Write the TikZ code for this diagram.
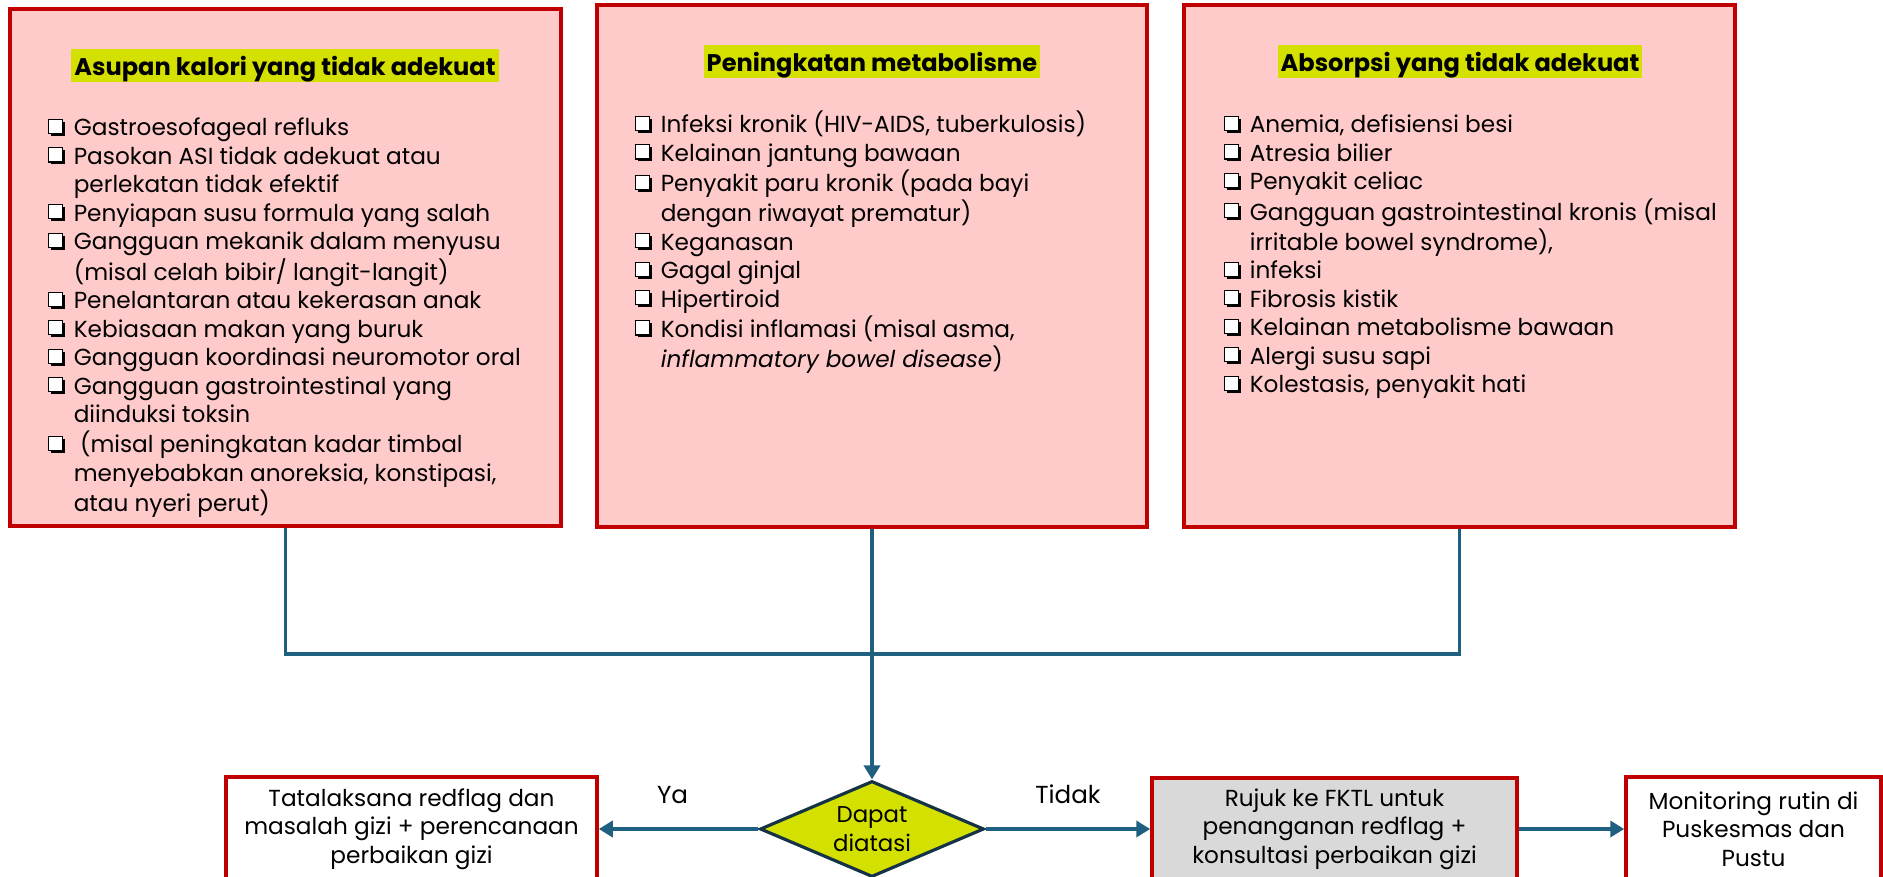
\documentclass[tikz,border=0pt]{standalone}
\usepackage{fontspec}
\setmainfont{Poppins}
\usetikzlibrary{arrows.meta,shapes.geometric}
\definecolor{garismerah}{RGB}{192,0,0}
\definecolor{isimerah}{RGB}{255,202,202}
\definecolor{kuninghijau}{RGB}{212,224,0}
\definecolor{alur}{RGB}{31,96,128}
\definecolor{tepibelah}{RGB}{22,50,70}
\definecolor{abu}{RGB}{217,217,217}

% kotak centang berbayang
\newcommand{\kotak}{\rlap{\hspace{0.3mm}\rule{1.4mm}{1.4mm}}%
  \raisebox{0.3mm}{\setlength{\fboxsep}{0pt}\setlength{\fboxrule}{0.3pt}%
  \fcolorbox{black}{white}{\rule{0pt}{1.3mm}\rule{1.3mm}{0pt}}}\hspace{0.3mm}}
\newcommand{\isifont}{\fontsize{6.6}{8.1}\selectfont}

\begin{document}
\begin{tikzpicture}[x=0.1mm,y=-0.1mm,>={Triangle[length=1.4mm,width=1.6mm]},
    sebab/.style={draw=garismerah,line width=1.1pt,fill=isimerah,inner sep=0pt},
    judul/.style={fill=kuninghijau,anchor=base,font=\bfseries\fontsize{6.85}{8.1}\selectfont,
      inner xsep=0.3mm,inner ysep=0pt,text height=2.7mm,text depth=0.6mm},
    daftar/.style={anchor=base west,inner sep=0pt,font=\isifont},
    langkah/.style={draw=garismerah,line width=1pt,align=center,inner sep=0pt,font=\isifont},
    keputusan/.style={diamond,draw=tepibelah,line width=0.9pt,fill=kuninghijau,aspect=2.33,
      inner sep=0pt,minimum width=22.4mm,minimum height=9.6mm,align=center,
      font=\fontsize{6.5}{8.2}\selectfont},
    label/.style={inner sep=0pt,font=\fontsize{7}{8.1}\selectfont},
    alir/.style={draw=alur,line width=1.1pt}]
    \useasboundingbox (0,0) rectangle (1883,877);

    % Kotak penyebab
    \node[sebab,minimum width=55.1mm,minimum height=51.7mm] (sebab1) at (285.5,267.5) {};
    \node[sebab,minimum width=55.0mm,minimum height=52.2mm] (sebab2) at (872,266) {};
    \node[sebab,minimum width=55.1mm,minimum height=52.2mm] (sebab3) at (1459.5,266) {};

    % Judul
    \node[judul] (judul1) at (285,76) {Asupan kalori yang tidak adekuat};
    \node[judul] (judul2) at (872,72) {Peningkatan metabolisme};
    \node[judul] (judul3) at (1460,72) {Absorpsi yang tidak adekuat};

    % Daftar
    \node[daftar] (daftar1) at (47,136) {\begin{tabular}[t]{@{}l@{\hspace{1.1mm}}l@{}}
      \kotak & Gastroesofageal refluks\\
      \kotak & Pasokan ASI tidak adekuat atau\\
             & perlekatan tidak efektif\\
      \kotak & Penyiapan susu formula yang salah\\
      \kotak & Gangguan mekanik dalam menyusu\\
             & (misal celah bibir/ langit-langit)\\
      \kotak & Penelantaran atau kekerasan anak\\
      \kotak & Kebiasaan makan yang buruk\\
      \kotak & Gangguan koordinasi neuromotor oral\\
      \kotak & Gangguan gastrointestinal yang\\
             & diinduksi toksin\\
      \kotak & \ (misal peningkatan kadar timbal\\
             & menyebabkan anoreksia, konstipasi,\\
             & atau nyeri perut)
    \end{tabular}};
    \node[daftar] (daftar2) at (634,133) {\begin{tabular}[t]{@{}l@{\hspace{1.1mm}}l@{}}
      \kotak & Infeksi kronik (HIV-AIDS, tuberkulosis)\\
      \kotak & Kelainan jantung bawaan\\
      \kotak & Penyakit paru kronik (pada bayi\\
             & dengan riwayat prematur)\\
      \kotak & Keganasan\\
      \kotak & Gagal ginjal\\
      \kotak & Hipertiroid\\
      \kotak & Kondisi inflamasi (misal asma,\\
             & \textit{inflammatory bowel disease})
    \end{tabular}};
    \node[daftar] (daftar3) at (1223,133) {\begin{tabular}[t]{@{}l@{\hspace{1.1mm}}l@{}}
      \kotak & Anemia, defisiensi besi\\
      \kotak & Atresia bilier\\
      \kotak & Penyakit celiac\\
      \kotak & Gangguan gastrointestinal kronis (misal\\
             & irritable bowel syndrome),\\
      \kotak & infeksi\\
      \kotak & Fibrosis kistik\\
      \kotak & Kelainan metabolisme bawaan\\
      \kotak & Alergi susu sapi\\
      \kotak & Kolestasis, penyakit hati
    \end{tabular}};

    % Alur bawah
    \node[keputusan] (dapat) at (872,829) {Dapat\\diatasi};
    \node[langkah,fill=white,minimum width=37.1mm,minimum height=10.4mm] (tatalaksana) at (411.5,829)
      {Tatalaksana redflag dan\\masalah gizi + perencanaan\\perbaikan gizi};
    \node[langkah,fill=abu,minimum width=36.5mm,minimum height=10.2mm] (rujuk) at (1334.5,829)
      {Rujuk ke FKTL untuk\\penanganan redflag +\\konsultasi perbaikan gizi};
    \node[langkah,fill=white,minimum width=25.5mm,minimum height=10.4mm] (monitoring) at (1753.5,829)
      {Monitoring rutin di\\Puskesmas dan\\Pustu};

    % Penghubung
    \coordinate (simpul) at (872,654);
    \draw[alir] (sebab1.south) |- (simpul) -| (sebab3.south);
    \draw[alir,->] (sebab2.south) -- (dapat.north);
    \draw[alir,->] (dapat.west) -- node[midway,above=2.3mm,xshift=-0.6mm,label] (ya) {Ya} (tatalaksana.east);
    \draw[alir,->] (dapat.east) -- node[midway,above=2.3mm,label] (tidak) {Tidak} (rujuk.west);
    \draw[alir,->] (rujuk.east) -- (monitoring.west);
\end{tikzpicture}
\end{document}
